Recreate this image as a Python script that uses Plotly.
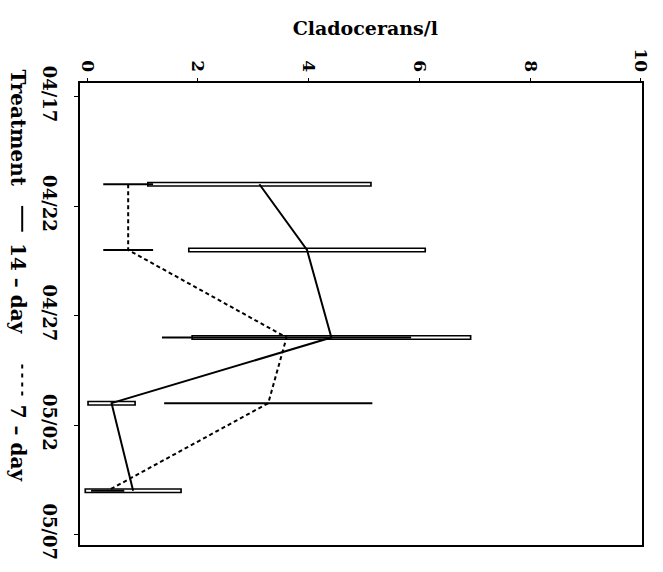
import plotly.graph_objects as go

# ---- data ----
dates = ["1996-04-21", "1996-04-24", "1996-04-28", "1996-05-01", "1996-05-05"]
mean_14 = [3.11, 3.97, 4.41, 0.44, 0.83]
sd_14 = [2.03, 2.15, 2.53, 0.44, 0.88]
mean_7 = [0.74, 0.74, 3.60, 3.27, 0.37]
sd_7 = [0.45, 0.45, 2.25, 1.88, 0.30]
tick_dates = ["1996-04-17", "1996-04-22", "1996-04-27", "1996-05-02", "1996-05-07"]
tick_labels = ["04/17", "04/22", "04/27", "05/02", "05/07"]
x_ticks = [0, 2, 4, 6, 8, 10]

FONT = "DejaVu Serif"

# plot-area geometry (pixels) used to place the legend pieces
L, R, T, B = 80, 644, 83, 549
PW, PH = R - L, B - T


def px(x):
    return (x - L) / PW


def py(y):
    return (B - y) / PH


def seg(means, sds, shrink=0.0):
    xs, ys = [], []
    for d, m, s in zip(dates, means, sds):
        xs += [m - s + shrink, m + s - shrink, None]
        ys += [d, d, None]
    return xs, ys


fig = go.Figure()

# 14-day error bars: hollow (outlined) bars
x14, y14 = seg(mean_14, sd_14)
fig.add_trace(go.Scatter(x=x14, y=y14, mode="lines",
                         line=dict(color="black", width=5), hoverinfo="skip", showlegend=False))
x14w, y14w = seg(mean_14, sd_14, shrink=0.03)
fig.add_trace(go.Scatter(x=x14w, y=y14w, mode="lines",
                         line=dict(color="white", width=2), hoverinfo="skip", showlegend=False))

# 7-day error bars: thin lines
x7, y7 = seg(mean_7, sd_7)
fig.add_trace(go.Scatter(x=x7, y=y7, mode="lines",
                         line=dict(color="black", width=2), hoverinfo="skip", showlegend=False))

# mean lines
fig.add_trace(go.Scatter(x=mean_14, y=dates, mode="lines", name="14-day",
                         line=dict(color="black", width=2), showlegend=False))
fig.add_trace(go.Scatter(x=mean_7, y=dates, mode="lines", name="7-day",
                         line=dict(color="black", width=2, dash="4px,3px"), showlegend=False))

fig.update_layout(
    width=663, height=572,
    margin=dict(l=L, r=663 - R, t=T, b=572 - B),
    plot_bgcolor="white", paper_bgcolor="white",
    font=dict(family=FONT, size=15, color="black", weight="bold"),
    title=dict(text="<b>Cladocerans/l</b>", x=0.551, xanchor="center", y=0.95, yanchor="middle",
               font=dict(family=FONT, size=19, color="black", weight="bold")),
    xaxis=dict(side="top", range=[-0.13, 10.02], tickvals=x_ticks,
               ticktext=[f"<b>{v}</b>" for v in x_ticks], tickangle=90,
               showgrid=False, zeroline=False, showline=True, mirror=True,
               linecolor="black", linewidth=2, ticks="outside", ticklen=3,
               tickcolor="black", tickfont=dict(family=FONT, size=17, weight="bold")),
    yaxis=dict(type="date", range=["1996-05-07 11:30", "1996-04-16 09:00"],
               tickvals=tick_dates, ticktext=[f"<b>{t}</b>" for t in tick_labels], tickangle=90,
               showgrid=False, zeroline=False, showline=True, mirror=True,
               linecolor="black", linewidth=2, ticks="outside", ticklen=4,
               ticklabelstandoff=9,
               tickcolor="black", tickfont=dict(family=FONT, size=18, weight="bold")),
)

# legend pieces (rotated, like the rest of the figure)
legend_font = dict(family=FONT, size=20, color="black", weight="bold")
for text, yc in [("Treatment", 128), ("14 – day", 291), ("7 – day", 447)]:
    fig.add_annotation(text=f"<b>{text}</b>", textangle=90, xref="paper", yref="paper",
                       x=px(18), y=py(yc), xanchor="center", yanchor="middle",
                       showarrow=False, font=legend_font)
fig.add_shape(type="line", xref="paper", yref="paper", x0=px(22), x1=px(22),
              y0=py(207), y1=py(233), line=dict(color="black", width=2))
fig.add_shape(type="line", xref="paper", yref="paper", x0=px(22), x1=px(22),
              y0=py(367), y1=py(400), line=dict(color="black", width=2, dash="4px,5px"))

fig.write_html("out.html")
